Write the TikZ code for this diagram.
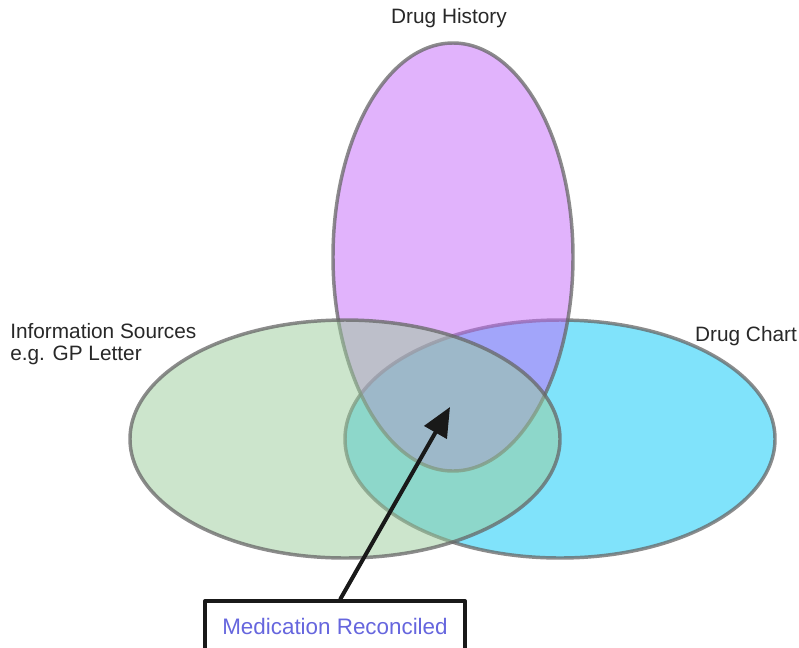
\documentclass[tikz,border=0pt]{standalone}
\usepackage{fontspec}
\setmainfont{Liberation Sans}
\usepackage{tikz}
\usetikzlibrary{arrows.meta}
\definecolor{historyc}{RGB}{196,104,250}
\definecolor{chartc}{RGB}{2,200,248}
\definecolor{sourcec}{RGB}{154,204,154}
\definecolor{reconc}{RGB}{102,102,222}
\definecolor{textc}{RGB}{40,40,40}

\begin{document}
\begin{tikzpicture}[line cap=round,line join=round,x=0.75pt,y=-0.75pt,
  venn/.style={draw=black!60,draw opacity=0.75,line width=2.6pt,fill opacity=0.5},
  lbl/.style={text=textc,font=\fontsize{15.6}{16.5}\selectfont,inner sep=0pt}]
\clip(0,0) rectangle (799,647);
% the three sets
\fill[white] (0,0) rectangle (799,647);
\draw[venn,fill=chartc] (560,439) ellipse (215 and 119);
\draw[venn,fill=historyc] (453,257) ellipse (120 and 214);
\draw[venn,fill=sourcec] (345,439) ellipse (215 and 119);
% labels
\node[lbl] (hist) at (449,18) {Drug History};
\node[lbl] (chart) at (746,336) {Drug Chart};
\node[lbl,anchor=west,align=left] (src) at (10,344) {Information Sources\\e.g. GP Letter};
% box and arrow
\node[draw=black!90,line width=3pt,minimum width=195pt,minimum height=37.5pt,inner sep=0pt,
  text=reconc,font=\fontsize{16.8}{18}\selectfont] (box) at (335,626) {Medication Reconciled};
\coordinate (core) at (450,407);
\draw[black!90,line width=3pt,-{Triangle[length=22pt,width=19pt]}] ([xshift=4pt]box.north) -- (core);
\end{tikzpicture}
\end{document}
